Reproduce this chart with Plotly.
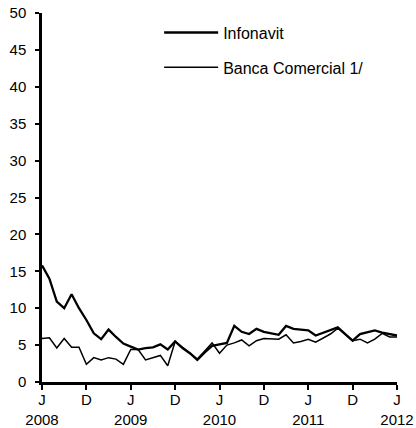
import plotly.graph_objects as go

months = list(range(49))  # 0 = J 2008 ... 48 = J 2012

infonavit = [15.8, 14.0, 10.9, 10.0, 11.9, 10.0, 8.4, 6.6, 5.8, 7.1, 6.1, 5.2,
             4.8, 4.4, 4.6, 4.7, 5.1, 4.4, 5.5, 4.6, 3.9, 3.0, 4.0, 4.9,
             5.1, 5.3, 7.6, 6.8, 6.5, 7.2, 6.8, 6.6, 6.4, 7.6, 7.2, 7.1,
             7.0, 6.3, 6.7, 7.0, 7.4, 6.5, 5.6, 6.5, 6.8, 7.0, 6.7, 6.5, 6.3]

banca = [5.9, 6.0, 4.6, 5.9, 4.7, 4.7, 2.4, 3.3, 3.0, 3.3, 3.1, 2.4,
         4.4, 4.4, 3.0, 3.3, 3.6, 2.2, 5.5, 4.7, 3.9, 3.1, 4.2, 5.3,
         3.9, 5.0, 5.3, 5.7, 4.9, 5.6, 5.9, 5.8, 5.8, 6.4, 5.3, 5.5,
         5.8, 5.4, 5.9, 6.5, 7.3, 6.4, 5.6, 5.8, 5.3, 5.8, 6.6, 6.1, 6.1]

tick_pos = [0, 6, 12, 18, 24, 30, 36, 42, 48]
tick_text = ["J<br>2008", "D", "J<br>2009", "D", "J<br>2010", "D", "J<br>2011", "D", "J<br>2012"]
y_ticks = [0, 5, 10, 15, 20, 25, 30, 35, 40, 45, 50]

font = "Liberation Sans, Arial, sans-serif"

fig = go.Figure()
fig.add_trace(go.Scatter(x=months, y=infonavit, mode="lines", name="Infonavit",
                         legendgroup="a",
                         line=dict(color="black", width=2.3)))
fig.add_trace(go.Scatter(x=months, y=banca, mode="lines", name="Banca Comercial 1/",
                         legendgroup="b",
                         line=dict(color="black", width=1.5)))

fig.update_layout(
    width=416, height=428,
    margin=dict(l=42, r=19, t=13, b=46),
    paper_bgcolor="white", plot_bgcolor="white",
    font=dict(family=font, size=15, color="black"),
    showlegend=True,
    legend=dict(x=0.33, y=0.993, xanchor="left", yanchor="top",
                bgcolor="rgba(0,0,0,0)", font=dict(size=16),
                itemwidth=54, tracegroupgap=11, traceorder="grouped"),
    xaxis=dict(range=[0, 48], tickmode="array", tickvals=tick_pos, ticktext=tick_text,
               showline=True, linecolor="black", linewidth=3,
               ticks="outside", ticklen=5, tickwidth=2, tickcolor="black",
               showgrid=False, zeroline=False, tickfont=dict(size=15),
               ticklabelstandoff=-3, automargin=False),
    yaxis=dict(range=[0, 50], tickmode="array", tickvals=y_ticks,
               showline=True, linecolor="black", linewidth=2.5,
               ticks="outside", ticklen=4, tickwidth=2, tickcolor="black",
               showgrid=False, zeroline=False, tickfont=dict(size=15),
               ticklabelstandoff=6, automargin=False),
)

fig.write_html("out.html", config={"displayModeBar": False},
               post_script="document.body.style.margin='0';document.body.style.overflow='hidden';")
